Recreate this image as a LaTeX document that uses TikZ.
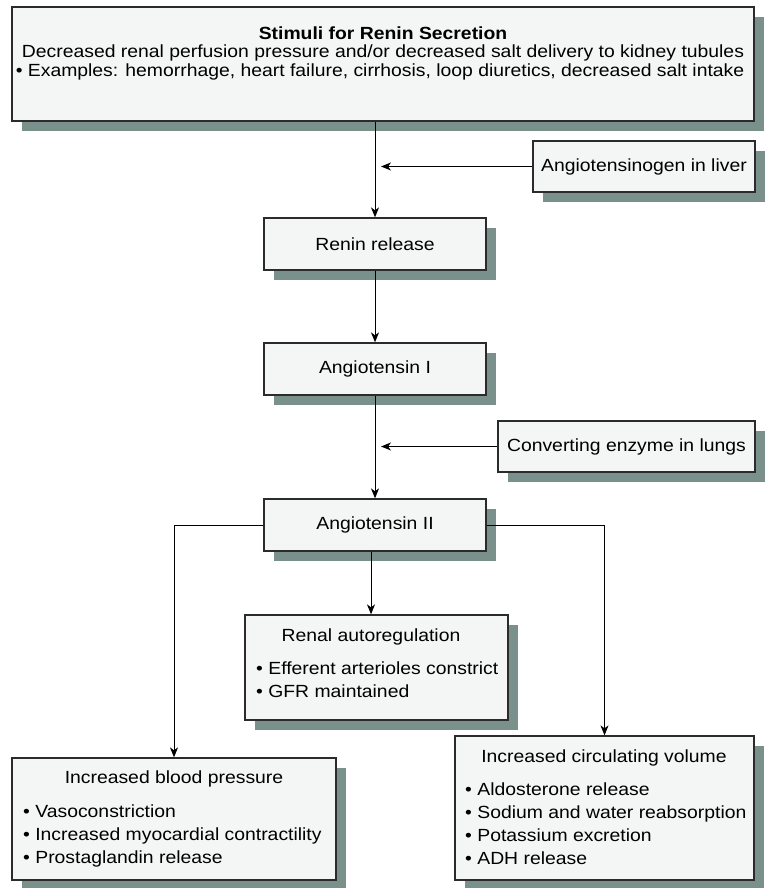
\documentclass[tikz,border=0pt]{standalone}
\usepackage{fontspec}
\setmainfont[FakeStretch=1.1]{Liberation Sans}
\usetikzlibrary{arrows.meta, shadows}
\definecolor{boxfill}{HTML}{F3F6F5}
\definecolor{shade}{HTML}{7A908B}
\definecolor{edge}{HTML}{2B2B2B}

\begin{document}
\begin{tikzpicture}[
  x=1pt, y=-1pt,
  font=\fontsize{17.6}{21}\selectfont,
  box/.style={draw=edge, line width=1.3pt, fill=boxfill, inner sep=0pt, align=center,
              drop shadow={shadow xshift=10pt, shadow yshift=-10pt, opacity=1, fill=shade}},
  txt/.style={inner sep=0pt},
  list/.style={txt, anchor=north west, align=left, font=\fontsize{17.6}{23}\selectfont},
  ar/.style={-{Stealth[length=10pt, width=8pt, inset=3pt]}, line width=1pt}
]
\useasboundingbox (0,0) rectangle (764,888);

% main column
\node[box, minimum width=742pt, minimum height=114pt] (stim) at (383,64) {};
\node[txt, anchor=base, font=\fontsize{17.6}{21}\selectfont\bfseries] (stimT) at (383,40) {Stimuli for Renin Secretion};
\node[txt, anchor=base] (stimA) at (383,58) {Decreased renal perfusion pressure and/or decreased salt delivery to kidney tubules};
\node[txt, anchor=base] (stimB) at (380,77) {• Examples: hemorrhage, heart failure, cirrhosis, loop diuretics, decreased salt intake};

\node[box, minimum width=222pt, minimum height=51pt] (liver) at (644,166.5) {Angiotensinogen in liver};
\node[box, minimum width=222pt, minimum height=52pt] (renin) at (375,244) {Renin release};
\node[box, minimum width=222pt, minimum height=52pt] (angI) at (375,369) {Angiotensin I};
\node[box, minimum width=257pt, minimum height=51pt] (enz) at (626.5,446.5) {Converting enzyme in lungs};
\node[box, minimum width=222pt, minimum height=52pt] (angII) at (375,525) {Angiotensin II};

% effects
\node[box, minimum width=263pt, minimum height=105pt] (renal) at (376.5,667.5) {};
\node[txt, anchor=base] (renalT) at (371,641) {Renal autoregulation};
\node[list] (renalL) at (256,662) {• Efferent arterioles constrict\\• GFR maintained};

\node[box, minimum width=324pt, minimum height=122pt] (bp) at (174,819) {};
\node[txt, anchor=base] (bpT) at (174,783) {Increased blood pressure};
\node[list] (bpL) at (23,805) {• Vasoconstriction\\• Increased myocardial contractility\\• Prostaglandin release};

\node[box, minimum width=299pt, minimum height=144pt] (vol) at (604.5,808) {};
\node[txt, anchor=base] (volT) at (604,762) {Increased circulating volume};
\node[list] (volL) at (465,783) {• Aldosterone release\\• Sodium and water reabsorption\\• Potassium excretion\\• ADH release};

\coordinate (spine) at (381,0);
\coordinate (mid) at (371,0);

\draw[ar] (renin.north |- stim.south) -- (renin.north);
\draw[ar] (liver.west) -- (liver.west -| spine);
\draw[ar] (renin) -- (angI);
\draw[ar] (angI) -- (angII);
\draw[ar] (enz.west) -- (enz.west -| spine);
\draw[ar] (angII.west) -| (bp.north);
\draw[ar] (angII.east) -| (vol.north);
\draw[ar] (angII.south -| mid) -- (renal.north -| mid);
\end{tikzpicture}
\end{document}
